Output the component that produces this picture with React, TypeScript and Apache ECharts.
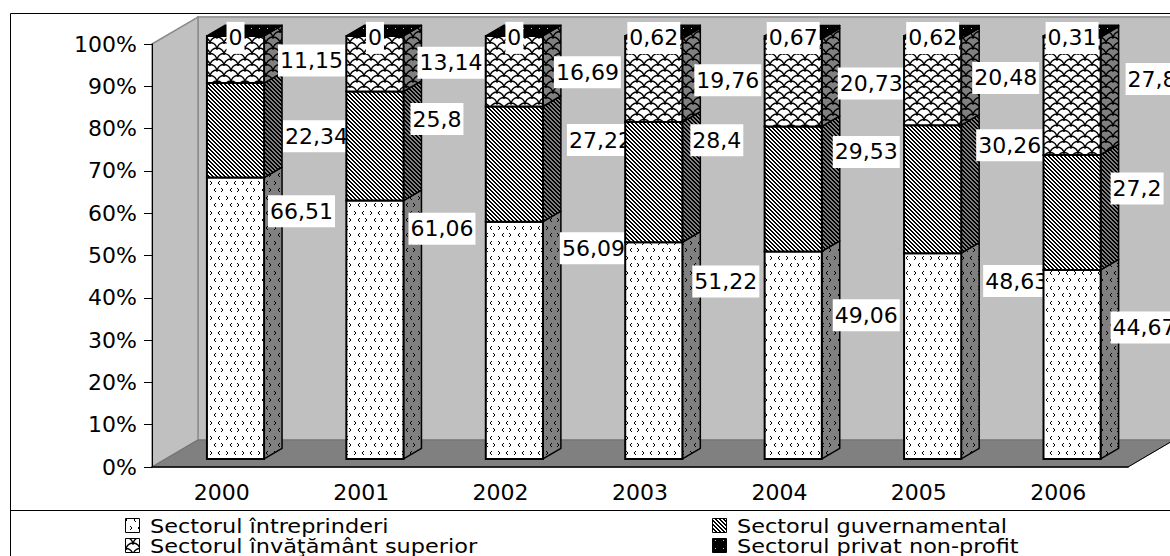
import { useEffect, useRef } from "react";
import * as echarts from "echarts";

// R&D spending structure by sector (% of total)
const YEARS = ["2000", "2001", "2002", "2003", "2004", "2005", "2006"];
const SERIES_NAMES = [
  "Sectorul întreprinderi",
  "Sectorul guvernamental",
  "Sectorul învăţământ superior",
  "Sectorul privat non-profit",
];
const INTREPRINDERI = [66.51, 61.06, 56.09, 51.22, 49.06, 48.63, 44.67];
const GUVERNAMENTAL = [22.34, 25.8, 27.22, 28.4, 29.53, 30.26, 27.2];
const INVATAMANT = [11.15, 13.14, 16.69, 19.76, 20.73, 20.48, 27.82];
const PRIVAT = [0, 0, 0, 0.62, 0.67, 0.62, 0.31];

// 3D projection: depth offset of the floor, bar position/thickness inside it
const FLOOR_DX = 46;
const FLOOR_DY = -27;
const BAR_FRONT = 0.3;
const BAR_THICK = 0.39;
const BAR_RATIO = 0.41;

// hand-placed data label offsets [dx, dy] per series and year
const LABEL_NUDGE = [
  [[-16, -107], [-15, -101], [-3, -92], [-10, -69], [-9, -40], [2, -75], [-10, -37]],
  [[-1, 6], [-13, -27], [4, -24], [-12, -42], [-9, -37], [-5, -44], [-10, -24]],
  [[-6, 1], [-6, -1], [-9, 1], [-8, 0], [-4, 1], [-9, -4], [5, -17]],
];

const FONT = "DejaVu Sans";

const fmt = (v: number) => String(v).replace(".", ",");

function tile(w: number, h: number, bg: string, draw: (ctx: CanvasRenderingContext2D) => void) {
  const c = document.createElement("canvas");
  c.width = w;
  c.height = h;
  const ctx = c.getContext("2d")!;
  ctx.fillStyle = bg;
  ctx.fillRect(0, 0, w, h);
  draw(ctx);
  return { image: c, repeat: "repeat" as const };
}

function chevrons(bg: string, ink: string) {
  return tile(16, 15, bg, (ctx) => {
    ctx.fillStyle = ink;
    const right = (x: number, y: number) => {
      ctx.fillRect(x, y, 1, 1);
      ctx.fillRect(x + 1, y + 1, 1, 2);
      ctx.fillRect(x, y + 3, 1, 1);
    };
    const left = (x: number, y: number) => {
      ctx.fillRect(x + 1, y, 1, 1);
      ctx.fillRect(x, y + 1, 1, 2);
      ctx.fillRect(x + 1, y + 3, 1, 1);
    };
    right(2, 1);
    left(10, 1);
    left(6, 8);
    right(13, 8);
  });
}

function stripes(bg: string, ink: string) {
  return tile(4, 4, bg, (ctx) => {
    ctx.fillStyle = ink;
    for (let y = 0; y < 4; y++)
      for (let x = 0; x < 4; x++)
        if (((x - y + 8) % 4) < 2) ctx.fillRect(x, y, 1, 1);
  });
}

function shingles(bg: string, ink: string) {
  return tile(14, 11, bg, (ctx) => {
    ctx.strokeStyle = ink;
    ctx.lineWidth = 1.4;
    const arc = (cx: number, cy: number) => {
      ctx.beginPath();
      ctx.arc(cx, cy, 7, Math.PI, 2 * Math.PI);
      ctx.stroke();
    };
    arc(7, 11);
    arc(0, 5.5);
    arc(14, 5.5);
    arc(0, 16.5);
    arc(14, 16.5);
  });
}

function dotted(bg: string, ink: string) {
  return tile(8, 8, bg, (ctx) => {
    ctx.fillStyle = ink;
    ctx.fillRect(3, 4, 1, 1);
  });
}

export default function App() {
  const ref = useRef<HTMLDivElement>(null);

  useEffect(() => {
    if (!ref.current) return;
    const chart = echarts.init(ref.current, undefined, { renderer: "svg" });

    const front = [
      chevrons("#ffffff", "#000000"),
      stripes("#ffffff", "#000000"),
      shingles("#ffffff", "#000000"),
      dotted("#000000", "#d0d0d0"),
    ];
    const side = [
      chevrons("#808080", "#000000"),
      stripes("#808080", "#000000"),
      shingles("#808080", "#000000"),
      dotted("#000000", "#808080"),
    ];
    const seriesValues = [INTREPRINDERI, GUVERNAMENTAL, INVATAMANT, PRIVAT];
    const n = YEARS.length;

    const labelStyle = {
      fontFamily: FONT,
      fontSize: 22,
      fill: "#000",
      backgroundColor: "#fff",
      padding: [3, 2, 3, 2],
      lineHeight: 26,
      verticalAlign: "middle",
    };

    const wallsRender = (_params: any, api: any) => {
      const [cx0, yB] = api.coord([0, 0]);
      const yT = api.coord([0, 100])[1];
      const band = api.size([1, 0])[0];
      const left = cx0 - band / 2;
      const right = left + band * n;
      return {
        type: "group",
        children: [
          {
            type: "rect",
            shape: { x: left + FLOOR_DX, y: yT + FLOOR_DY, width: right - left + 60, height: yB - yT },
            style: { fill: "#c0c0c0", stroke: "#9c9c9c", lineWidth: 2 },
          },
          {
            type: "polygon",
            shape: {
              points: [
                [left, yT],
                [left + FLOOR_DX, yT + FLOOR_DY],
                [left + FLOOR_DX, yB + FLOOR_DY],
                [left, yB],
              ],
            },
            style: { fill: "#c0c0c0", stroke: "#8c8c8c", lineWidth: 1.5 },
          },
          {
            type: "polygon",
            shape: {
              points: [
                [left, yB],
                [left + FLOOR_DX, yB + FLOOR_DY],
                [right + FLOOR_DX, yB + FLOOR_DY],
                [right, yB],
              ],
            },
            style: { fill: "#808080", stroke: "#707070", lineWidth: 1 },
          },
          {
            type: "line",
            shape: { x1: right, y1: yB, x2: right + FLOOR_DX, y2: yB + FLOOR_DY },
            style: { stroke: "#000", lineWidth: 1 },
          },
        ],
      };
    };

    const barsRender = (_params: any, api: any) => {
      const idx = api.value(0);
      const vals = [api.value(1), api.value(2), api.value(3), api.value(4)];
      const cx = api.coord([idx, 0])[0];
      const band = api.size([1, 0])[0];
      const bw = band * BAR_RATIO;
      const fdx = FLOOR_DX * BAR_FRONT;
      const fdy = FLOOR_DY * BAR_FRONT;
      const ddx = FLOOR_DX * BAR_THICK;
      const ddy = FLOOR_DY * BAR_THICK;
      const L = cx + fdx - bw / 2;
      const R = L + bw;
      const Y = (v: number) => api.coord([idx, v])[1] + fdy;

      const faces: any[] = [];
      const labels: any[] = [];
      let acc = 0;
      const bottoms: number[] = [];
      for (let s = 0; s < 4; s++) {
        const b = acc;
        const t = acc + vals[s];
        bottoms.push(b);
        acc = t;
        if (vals[s] <= 0) continue;
        faces.push({
          type: "polygon",
          shape: {
            points: [
              [R, Y(b)],
              [R + ddx, Y(b) + ddy],
              [R + ddx, Y(t) + ddy],
              [R, Y(t)],
            ],
          },
          style: { fill: side[s], stroke: "#000", lineWidth: 1.5, lineJoin: "round" },
        });
        faces.push({
          type: "rect",
          shape: { x: L, y: Y(t), width: bw, height: Y(b) - Y(t) },
          style: { fill: front[s], stroke: "#000", lineWidth: 2 },
        });
      }
      const yTop = Y(acc);
      faces.push({
        type: "polygon",
        shape: {
          points: [
            [L, yTop],
            [L + ddx, yTop + ddy],
            [R + ddx, yTop + ddy],
            [R, yTop],
          ],
        },
        style: { fill: front[3], stroke: "#000", lineWidth: 1.5, lineJoin: "round" },
      });

      for (let s = 0; s < 3; s++) {
        const [nx, ny] = LABEL_NUDGE[s][idx];
        labels.push({
          type: "text",
          x: R + ddx + 2 + nx,
          y: Y(bottoms[s] + vals[s] / 2) + ny,
          style: { ...labelStyle, text: fmt(vals[s]), align: "left" },
        });
      }
      labels.push({
        type: "text",
        x: L + bw / 2,
        y: yTop + 2,
        style: { ...labelStyle, text: fmt(vals[3]), align: "center" },
      });

      return { type: "group", children: [...faces, ...labels] };
    };

    // legend: two columns, two rows
    const legendItems: any[] = [];
    const legendPos = [
      [125, 518],
      [712, 518],
      [125, 538],
      [712, 538],
    ];
    SERIES_NAMES.forEach((name, i) => {
      const [x, y] = legendPos[i];
      legendItems.push({
        type: "rect",
        shape: { x: x + 0.5, y: y + 0.5, width: 14, height: 14 },
        style: { fill: front[i], stroke: "#000", lineWidth: 1 },
      });
      legendItems.push({
        type: "text",
        x: x + 25,
        y: y + 7.5,
        scaleX: 1.12,
        style: {
          text: name,
          fontFamily: FONT,
          fontSize: 20,
          lineHeight: 20,
          font: `20px "${FONT}"`,
          fill: "#000",
          align: "left",
          verticalAlign: "middle",
          textAlign: "left",
          textVerticalAlign: "middle",
        },
      });
    });

    chart.setOption({
      animation: false,
      backgroundColor: "#ffffff",
      grid: { left: 152, right: 42, top: 44, bottom: 89, containLabel: false },
      xAxis: {
        type: "category",
        data: YEARS,
        z: 3,
        axisLine: { lineStyle: { color: "#000", width: 1.5 } },
        axisTick: { length: 7, lineStyle: { color: "#000" } },
        axisLabel: { fontFamily: FONT, fontSize: 22, color: "#000", margin: 14 },
        splitLine: { show: false },
      },
      yAxis: {
        type: "value",
        min: 0,
        max: 100,
        interval: 10,
        z: 3,
        axisLine: { show: true, lineStyle: { color: "#000", width: 1 } },
        axisTick: { show: true, length: 8, lineStyle: { color: "#000" } },
        axisLabel: { formatter: "{value}%", fontFamily: FONT, fontSize: 22, color: "#000", margin: 15 },
        splitLine: { show: false },
      },
      series: [
        {
          type: "custom",
          name: "walls",
          z: 1,
          clip: false,
          silent: true,
          renderItem: wallsRender,
          encode: { x: 0, y: 1 },
          data: [[0, 0]],
        },
        {
          type: "custom",
          name: "bars",
          z: 2,
          clip: false,
          renderItem: barsRender,
          encode: { x: 0, y: 1 },
          data: YEARS.map((_, i) => [i, ...seriesValues.map((arr) => arr[i])]),
        },
      ],
      graphic: [
        {
          type: "rect",
          z: 10,
          silent: true,
          shape: { x: 10.5, y: 13.5, width: 1300, height: 700 },
          style: { fill: "none", stroke: "#000", lineWidth: 1 },
        },
        {
          type: "line",
          z: 10,
          silent: true,
          shape: { x1: 10, y1: 510.5, x2: 1170, y2: 510.5 },
          style: { stroke: "#000", lineWidth: 1 },
        },
        { type: "group", z: 10, children: legendItems },
      ],
    });

    return () => chart.dispose();
  }, []);

  return (
    <div
      ref={ref}
      style={{ position: "fixed", left: 0, top: 0, width: 1170, height: 556, background: "#fff" }}
    />
  );
}
